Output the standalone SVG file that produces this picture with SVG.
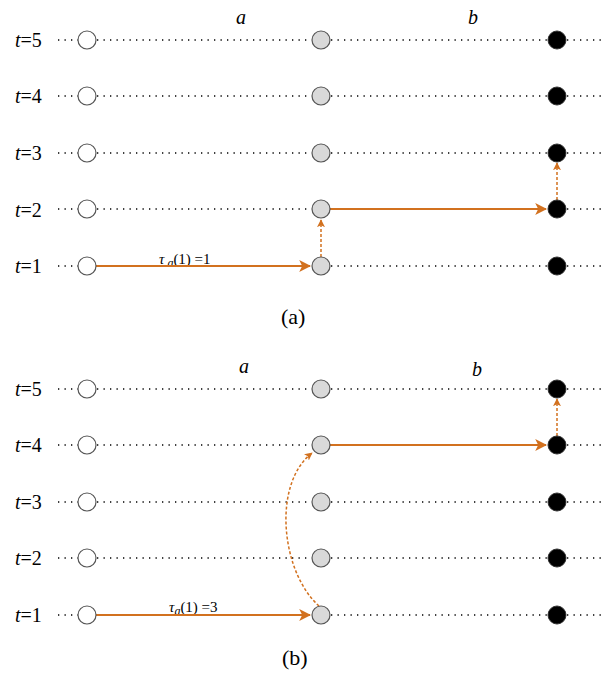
<svg xmlns="http://www.w3.org/2000/svg" width="604" height="675" viewBox="0 0 604 675">
<defs>
<marker id="ah" viewBox="0 0 10 10" refX="9" refY="5" markerWidth="12" markerHeight="12" markerUnits="userSpaceOnUse" orient="auto">
<path d="M0,0 L10,5 L0,10 L2.5,5 Z" fill="#D2711F"/>
</marker>
<marker id="ahs" viewBox="0 0 10 10" refX="9" refY="5" markerWidth="8" markerHeight="8" markerUnits="userSpaceOnUse" orient="auto">
<path d="M0,0 L10,5 L0,10 L2.5,5 Z" fill="#D2711F"/>
</marker>
</defs>
<style>
.dot{stroke:#000;stroke-width:1.3;stroke-dasharray:1.3 5.2;fill:none}
.w{fill:#fff;stroke:#555;stroke-width:1.2}
.g{fill:#d9d9d9;stroke:#555;stroke-width:1.2}
.k{fill:#000;stroke:#333;stroke-width:1}
.sol{stroke:#D2711F;stroke-width:2;fill:none;marker-end:url(#ah)}
.dsh{stroke:#D2711F;stroke-width:1.5;stroke-dasharray:3 2;fill:none;marker-end:url(#ahs)}
text{font-family:"Liberation Serif","Times New Roman",serif;fill:#000}
.lab{font-size:20px}
.ital{font-style:italic}
.cap{font-size:22px}
.tau{font-size:15px}
</style>
<g id="gridlines">
<path class="dot" d="M58,40H78M97,40H311M331,40H547M567,40H602"/>
<path class="dot" d="M58,96H78M97,96H311M331,96H547M567,96H602"/>
<path class="dot" d="M58,153H78M97,153H311M331,153H547M567,153H602"/>
<path class="dot" d="M58,209H78M97,209H311M567,209H602"/>
<path class="dot" d="M58,266H78M331,266H547M567,266H602"/>
<path class="dot" d="M58,389H78M97,389H311M331,389H547M567,389H602"/>
<path class="dot" d="M58,445H78M97,445H311M567,445H602"/>
<path class="dot" d="M58,502H78M97,502H311M331,502H547M567,502H602"/>
<path class="dot" d="M58,558H78M97,558H311M331,558H547M567,558H602"/>
<path class="dot" d="M58,615H78M331,615H547M567,615H602"/>
</g>
<g id="labels">
<text class="lab" x="15" y="47"><tspan class="ital">t</tspan>=5</text>
<text class="lab" x="15" y="103"><tspan class="ital">t</tspan>=4</text>
<text class="lab" x="15" y="160"><tspan class="ital">t</tspan>=3</text>
<text class="lab" x="15" y="217"><tspan class="ital">t</tspan>=2</text>
<text class="lab" x="15" y="273"><tspan class="ital">t</tspan>=1</text>
<text class="lab ital" x="236" y="24">a</text>
<text class="lab ital" x="468" y="24">b</text>
<text class="cap" x="281" y="324">(a)</text>
<text class="lab" x="15" y="396"><tspan class="ital">t</tspan>=5</text>
<text class="lab" x="15" y="452"><tspan class="ital">t</tspan>=4</text>
<text class="lab" x="15" y="509"><tspan class="ital">t</tspan>=3</text>
<text class="lab" x="15" y="565"><tspan class="ital">t</tspan>=2</text>
<text class="lab" x="15" y="622"><tspan class="ital">t</tspan>=1</text>
<text class="lab ital" x="239" y="373">a</text>
<text class="lab ital" x="472" y="376">b</text>
<text class="cap" x="282" y="665">(b)</text>
<text class="tau" x="159" y="264"><tspan class="ital">τ</tspan><tspan class="ital" dx="3" dy="3" font-size="12">a</tspan><tspan dy="-3">(1) =1</tspan></text>
<text class="tau" x="169" y="612"><tspan class="ital">τ</tspan><tspan class="ital" dy="3" font-size="12">a</tspan><tspan dy="-3">(1) =3</tspan></text>
</g>
<g id="connectors">
<path class="sol" d="M96,266H310"/>
<path class="dsh" d="M321,257V220"/>
<path class="sol" d="M330,209H546"/>
<path class="dsh" d="M557,200V163"/>
<path class="sol" d="M96,615H310"/>
<path class="dsh" d="M319,606C281,572 272,484 312,453"/>
<path class="sol" d="M330,445H546"/>
<path class="dsh" d="M557,436V399"/>
</g>
<g id="nodes-a">
<circle id="a-l5" class="w" cx="87" cy="40" r="9"/>
<circle id="a-l4" class="w" cx="87" cy="96" r="9"/>
<circle id="a-l3" class="w" cx="87" cy="153" r="9"/>
<circle id="a-l2" class="w" cx="87" cy="209" r="9"/>
<circle id="a-l1" class="w" cx="87" cy="266" r="9"/>
<circle id="a-m5" class="g" cx="321" cy="40" r="9"/>
<circle id="a-m4" class="g" cx="321" cy="96" r="9"/>
<circle id="a-m3" class="g" cx="321" cy="153" r="9"/>
<circle id="a-m2" class="g" cx="321" cy="209" r="9"/>
<circle id="a-m1" class="g" cx="321" cy="266" r="9"/>
<circle id="a-r5" class="k" cx="557" cy="40" r="9"/>
<circle id="a-r4" class="k" cx="557" cy="96" r="9"/>
<circle id="a-r3" class="k" cx="557" cy="153" r="9"/>
<circle id="a-r2" class="k" cx="557" cy="209" r="9"/>
<circle id="a-r1" class="k" cx="557" cy="266" r="9"/>
</g>
<g id="nodes-b">
<circle id="b-l5" class="w" cx="87" cy="389" r="9"/>
<circle id="b-l4" class="w" cx="87" cy="445" r="9"/>
<circle id="b-l3" class="w" cx="87" cy="502" r="9"/>
<circle id="b-l2" class="w" cx="87" cy="558" r="9"/>
<circle id="b-l1" class="w" cx="87" cy="615" r="9"/>
<circle id="b-m5" class="g" cx="321" cy="389" r="9"/>
<circle id="b-m4" class="g" cx="321" cy="445" r="9"/>
<circle id="b-m3" class="g" cx="321" cy="502" r="9"/>
<circle id="b-m2" class="g" cx="321" cy="558" r="9"/>
<circle id="b-m1" class="g" cx="321" cy="615" r="9"/>
<circle id="b-r5" class="k" cx="557" cy="389" r="9"/>
<circle id="b-r4" class="k" cx="557" cy="445" r="9"/>
<circle id="b-r3" class="k" cx="557" cy="502" r="9"/>
<circle id="b-r2" class="k" cx="557" cy="558" r="9"/>
<circle id="b-r1" class="k" cx="557" cy="615" r="9"/>
</g>
</svg>
